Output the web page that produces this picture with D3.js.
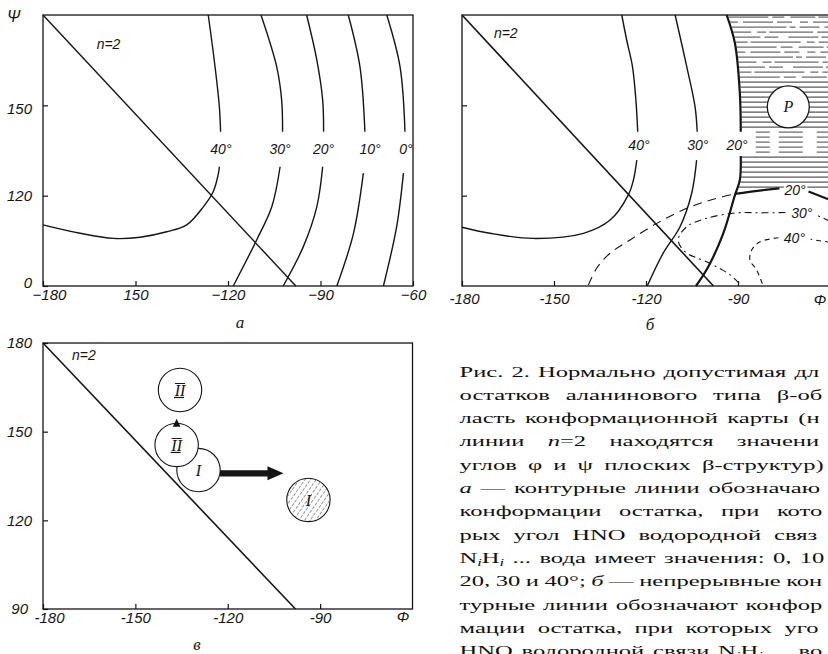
<!DOCTYPE html>
<html><head><meta charset="utf-8">
<script src="https://cdn.jsdelivr.net/npm/d3@7"></script>
<style>
body{margin:0;background:#fff;}
svg{display:block;background:#fff;}
.ax text{font-family:"Liberation Sans",Arial,sans-serif;font-style:italic;font-size:15px;fill:#151515;}
.ax line{stroke:#151515;stroke-width:1.2;}
.lbl{font-family:"Liberation Sans",Arial,sans-serif;font-style:italic;fill:#151515;}
.ser{font-family:"Liberation Serif","Times New Roman",serif;font-style:italic;fill:#151515;}
</style></head><body>
<svg id="c" width="828" height="654"></svg>
<script>
// ---------- axis ticks / labels ----------
const aXTicks = [-180,-150,-120,-90,-60];
const aXLabels = ["−180","150","−120","−90","−60"];
const aYTicks = [90,120,150];
const aYLabels = ["0","120","150"];
const bXTicks = [-180,-150,-120,-90];
const bXLabels = ["-180","-150","-120","-90"];
const bYTicks = [120,150];
const vXTicks = [-180,-150,-120,-90];
const vXLabels = ["-180","-150","-120","-90"];
const vYTicks = [90,120,150,180];
const vYLabels = ["90","120","150","180"];

// ---------- line n = 2 (phi, psi) ----------
const nLine = [[-180,180],[-98,90]];

// ---------- panel а : HNO-angle contours (phi, psi), null = label gap ----------
const a40 = [[-126.4,180],[-124.2,162.8],[-122.8,149.5],[-122.4,141.2],null,[-122.8,129.6],[-123.1,127.4],[-124.8,121.3],[-128,116.3],[-133.4,110.3],[-139.9,108],[-148.5,106.2],[-157.2,105.8],[-168,107.5],[-180,110.3]];
const a30 = [[-109.3,180],[-104.2,162.8],[-102.6,151.8],[-102.3,141.2],null,[-103.1,129.6],[-105.8,116.3],[-110.7,105.3],[-118.3,90]];
const a20 = [[-94.5,180],[-91.2,165.1],[-89.3,151.8],[-89.0,141.2],null,[-89.3,129.6],[-91.2,116.3],[-95.6,103],[-102.1,90]];
const a10 = [[-81,180],[-77.2,162.8],[-75.6,141.2],null,[-76.1,127.5],[-79.3,107.5],[-84.7,90]];
const a0  = [[-68.5,180],[-64.2,162.8],[-62.6,141.2],null,[-63.1,127.5],[-65.3,109.7],[-69.6,90]];
const aLabels = ["40°","30°","20°","10°","0°"];
const aLabelPhi = [-122.3,-103.1,-89,-73.9,-62.3];

// ---------- panel б : solid contours ----------
const b40 = [[-127.9,180],[-126.3,171.7],[-124.4,162.8],[-123.3,151.8],[-122.7,141.2],null,[-123,131.8],[-124.1,125.2],[-125.8,120.2],[-131.7,111.9],[-140.4,107.5],[-156.8,105.8],[-170.9,107.5],[-180,109.5]];
const b30 = [[-110.5,180],[-106.7,162.8],[-104,149.5],[-103.3,141.2],null,[-103.5,131.8],[-105.1,120.8],[-108.9,109.7],[-114.4,100.9],[-119.6,90]];
const b20 = [[-93.7,180],[-91,170.6],[-89.4,154],[-89.1,141.2],null,[-89.1,133.2],[-89.4,125.2],[-91,120.2],[-94.8,107.5],[-99.7,96.4],[-103.7,90]];
const bLabels = ["40°","30°","20°"];
const bLabelPhi = [-122.3,-103.1,-90.3];
// dashed contours (second set)
const d20 = [[-138.8,90.3],[-136.1,95.9],[-131.7,100.9],[-125.2,105.3],[-116.5,110.8],[-106.7,115.8],[-98.1,118.8],[-91,120.6]];
const s20 = [[-91,120.6],[-83,121.7],[-76.5,122.4],null,[-67,121.4],[-60.5,118.8]];
const d30 = [[-60,111.5],[-64.3,113.5],null,[-74.5,114.4],[-82.6,114.3],[-90.4,114.3],[-100.2,112.5],[-106.7,109.7],[-109.5,105.3],[-107.3,101.4],[-99.1,97.5],[-92.6,93.7],[-88.8,90]];
const d40 = [[-60,104.5],[-66.3,105.5],null,[-76.8,106],[-82.8,104.7],[-85.5,102],[-86.1,98.6],[-83.9,95.3],[-81.8,90]];
const dLabels = ["20°","30°","40°"];
const dLabelPhi = [-71.4,-69.2,-71.6];
const dLabelPsi = [121.9,114.2,106];
const pCircle = [-73.6,149.5];

// ---------- panel в : conformations ----------
const circleLabels = ["II","I","II","I"];
const circlePhi = [-135.5,-129.5,-136.6,-93.8];
const circlePsi = [164.1,137.0,145.5,126.9];
const circleHatched = [false,false,false,true];
const moveArrow = [[-122.5,135.9],[-101.9,135.9]];
const upArrowTip = [-136.6,154.4];

// ---------- caption ----------
const captionLines = [
 "Рис. 2. Нормально допустимая для",
 "остатков аланинового типа β-об-",
 "ласть конформационной карты (на",
 "линии *n*=2 находятся значения",
 "углов φ и ψ плоских β-структур);",
 "*а* — контурные линии обозначают",
 "конформации остатка, при кото-",
 "рых угол HNO водородной связи",
 "N_{i}H_{i} ... вода имеет значения: 0, 10,",
 "20, 30 и 40°; *б* — непрерывные кон-",
 "турные линии обозначают конфор-",
 "мации остатка, при которых угол",
 "HNO водородной связи N_{i}H_{i} ... во-"
];

// =====================================================
const ink = "#151515";
const svg = d3.select("#c");
const defs = svg.append("defs");
const pat = defs.append("pattern").attr("id","diag").attr("patternUnits","userSpaceOnUse")
  .attr("width",4.6).attr("height",4.6).attr("patternTransform","rotate(35)");
pat.append("line").attr("x1",0).attr("y1",0).attr("x2",0).attr("y2",4.6)
  .attr("stroke",ink).attr("stroke-width",0.9).attr("stroke-dasharray","3.2,1.4");

const xA = d3.scaleLinear().domain([-180,-60]).range([43,413]);
const yA = d3.scaleLinear().domain([90,180]).range([286,15]);
const xB = d3.scaleLinear().domain([-180,-60]).range([462,830]);
const yB = d3.scaleLinear().domain([90,180]).range([286,15]);
const xV = d3.scaleLinear().domain([-180,-60]).range([43,412.5]);
const yV = d3.scaleLinear().domain([90,180]).range([609,343]);

function gen(x,y){
  return d3.line().defined(d=>d!==null).x(d=>x(d[0])).y(d=>y(d[1])).curve(d3.curveCatmullRom.alpha(0.5));
}
function curve(g,data,x,y,w,dash){
  return g.append("path").datum(data).attr("d",gen(x,y)).attr("fill","none")
    .attr("stroke",ink).attr("stroke-width",w).attr("stroke-dasharray",dash||null)
    .attr("stroke-linecap","butt");
}
function frame(g,x,y){
  g.append("rect").attr("x",x.range()[0]).attr("y",y.range()[1])
   .attr("width",x.range()[1]-x.range()[0]).attr("height",y.range()[0]-y.range()[1])
   .attr("fill","none").attr("stroke",ink).attr("stroke-width",1.3);
}
function axes(g,x,y,xt,xl,xpad,yt,yl,ypad){
  const bx = g.append("g").attr("class","ax").attr("transform",`translate(0,${y.range()[0]})`)
    .call(d3.axisBottom(x).tickValues(xt).tickFormat((d,i)=>xl?xl[i]:"").tickSize(-5).tickPadding(xpad));
  bx.select(".domain").remove();
  const ly = g.append("g").attr("class","ax").attr("transform",`translate(${x.range()[0]},0)`)
    .call(d3.axisRight(y).tickValues(yt).tickFormat(()=>"").tickSize(5));
  ly.select(".domain").remove();
  if (yl){
    const lx = g.append("g").attr("class","ax").attr("transform",`translate(${x.range()[0]},0)`)
      .call(d3.axisLeft(y).tickValues(yt).tickFormat((d,i)=>yl[i]).tickSize(0).tickPadding(ypad));
    lx.select(".domain").remove();
    return {bx,lx};
  }
  return {bx};
}
function text(g,str,x,y,size,cls,anchor){
  return g.append("text").attr("class",cls||"lbl").attr("x",x).attr("y",y)
    .attr("font-size",size).attr("text-anchor",anchor||"middle").text(str);
}

// ================= panel а =================
const gA = svg.append("g");
frame(gA,xA,yA);
const axA = axes(gA,xA,yA,aXTicks,aXLabels,3,aYTicks,aYLabels,11);
axA.bx.selectAll(".tick text").filter((d,i)=>i===0).attr("dx",6);
axA.lx.selectAll(".tick text").filter((d,i)=>i===0).attr("dy","0.1em");
axA.lx.selectAll(".tick text").filter((d,i)=>i===2).attr("dy","0.55em");
text(gA,"Ψ",7,22,16,"lbl","start");
[a40,a30,a20,a10,a0].forEach(c=>curve(gA,c,xA,yA,1.4));
curve(gA,nLine,xA,yA,1.4);
aLabels.forEach((l,i)=>text(gA,l,xA(aLabelPhi[i]),yA(135.5)+5,14));
text(gA,"n=2",xA(-162.6),yA(168.7),14,"lbl","start");
text(gA,"а",240,328,17,"ser");

// ================= panel б =================
const gB = svg.append("g");
const b20path = curve(gB,b20,xB,yB,2.2);
const node = b20path.node(), L = node.getTotalLength();
const samples = d3.range(0,L,0.5).map(l=>node.getPointAtLength(l));
function xAtY(yy){ let best=samples[0],bd=1e9; for(const p of samples){const dd=Math.abs(p.y-yy); if(dd<bd){bd=dd;best=p;}} return best.x; }
const hatch = gB.append("g").attr("stroke",ink).attr("stroke-width",0.9);
const frag = ["40,4,12,6,25,3","8,5,30,4,15,8","55,3,6,4,20,5","18,6,9,3,44,4","26,4,14,10,30,3","12,3,50,6,8,4"];
d3.range(yB(179.3),yB(121.9),5).forEach((yy,i)=>{
  const inGap = yy>yB(141.4) && yy<yB(133.6);
  const x1 = xAtY(yy)+1;
  const ln = hatch.append("line").attr("x1",inGap? x1+14 : x1).attr("x2",832).attr("y1",yy).attr("y2",yy);
  if (inGap) ln.attr("stroke-dasharray","14,9,24,14").attr("stroke-width",0.8);
  else if (yy<yB(158)) ln.attr("stroke-dasharray",frag[i%frag.length]).attr("stroke-width",0.8);
});
b20path.raise();
frame(gB,xB,yB);
axes(gB,xB,yB,bXTicks,bXLabels,7,bYTicks,null,0).bx.selectAll(".tick text").filter((d,i)=>i===0).attr("dx",2);
[b40,b30].forEach(c=>curve(gB,c,xB,yB,1.4));
curve(gB,nLine,xB,yB,1.6);
curve(gB,d20,xB,yB,1.1,"9,6");
curve(gB,s20,xB,yB,2.2);
curve(gB,d30,xB,yB,1.1,"7,4,2,4");
curve(gB,d40,xB,yB,1.1,"5,4");
gB.append("circle").attr("cx",xB(pCircle[0])).attr("cy",yB(pCircle[1])).attr("r",21)
  .attr("fill","#fff").attr("stroke",ink).attr("stroke-width",1.3);
text(gB,"P",xB(pCircle[0]),yB(pCircle[1])+5,16,"ser");
bLabels.forEach((l,i)=>text(gB,l,xB(bLabelPhi[i]),yB(136.7)+5,14)
  .attr("stroke","#fff").attr("stroke-width",4).attr("paint-order","stroke"));
dLabels.forEach((l,i)=>text(gB,l,xB(dLabelPhi[i]),yB(dLabelPsi[i])+5,14)
  .attr("stroke","#fff").attr("stroke-width",4).attr("paint-order","stroke"));
text(gB,"n=2",xB(-169.6),yB(172.5),14,"lbl","start");
text(gB,"Φ",820,305,15);
text(gB,"б",650,330,17,"ser");

// ================= panel в =================
const gV = svg.append("g");
frame(gV,xV,yV);
const axV = axes(gV,xV,yV,vXTicks,vXLabels,3,vYTicks,vYLabels,11);
axV.bx.selectAll(".tick text").filter((d,i)=>i===0).attr("dx",6);
axV.lx.selectAll(".tick text").filter((d,i)=>i===0).attr("dx",-4);
curve(gV,nLine,xV,yV,1.6);
text(gV,"n=2",xV(-170.6),yV(174.2),14,"lbl","start");
text(gV,"Φ",403,622,15);
text(gV,"в",197,650,17,"ser");
[0,1,2,3].forEach(i=>{
  const cx = xV(circlePhi[i]), cy = yV(circlePsi[i]);
  gV.append("circle").attr("cx",cx).attr("cy",cy).attr("r",21.7)
    .attr("fill","#fff").attr("stroke",ink).attr("stroke-width",1.1);
  if (circleHatched[i]) gV.append("circle").attr("cx",cx).attr("cy",cy).attr("r",21.2).attr("fill","url(#diag)");
  text(gV,circleLabels[i],cx,cy+6,16,"ser");
  if (circleLabels[i]==="II"){
    gV.append("line").attr("x1",cx-5).attr("x2",cx+5).attr("y1",cy-6.5).attr("y2",cy-6.5).attr("stroke",ink).attr("stroke-width",1);
    gV.append("line").attr("x1",cx-6).attr("x2",cx+4).attr("y1",cy+7.5).attr("y2",cy+7.5).attr("stroke",ink).attr("stroke-width",1.2);
  }
});
{
  const x0 = xV(moveArrow[0][0]), x1 = xV(moveArrow[1][0]), yy = yV(moveArrow[0][1]);
  const hl = 16, hh = 7, sh = 3.2;
  gV.append("path").attr("d",`M${x0},${yy-sh}L${x1-hl},${yy-sh}L${x1-hl},${yy-hh}L${x1},${yy}L${x1-hl},${yy+hh}L${x1-hl},${yy+sh}L${x0},${yy+sh}Z`)
    .attr("fill",ink);
  const tx = xV(upArrowTip[0]), ty = yV(upArrowTip[1]);
  gV.append("path").attr("d",`M${tx},${ty}L${tx+3.8},${ty+8}L${tx-3.8},${ty+8}Z`).attr("fill",ink);
}

// ================= caption (justified, cut at the page edge like the scan) =================
const W = 371, X0 = 459.5, BASE0 = 376.5, LH = 23.3, G0 = 5.5, LIMIT = 828;
const cap = svg.append("g");
const lines = captionLines.map((ln,li)=>{
  const t = cap.append("text").attr("font-family","'Liberation Serif','Times New Roman',serif")
    .attr("font-size",15).attr("fill","#111");
  const words = ln.split(" ").map(w=>{
    const ws = t.append("tspan");
    const parts = [];
    let down = false;
    w.split(/(\*[^*]+\*|_\{[^}]+\})/).filter(s=>s.length).forEach(s=>{
      let p;
      if (s[0]==="*") { p = ws.append("tspan").attr("font-style","italic").attr("dy",down?-3:null).text(s.slice(1,-1)); down=false; }
      else if (s[0]==="_") { p = ws.append("tspan").attr("font-style","italic").attr("font-size",10).attr("dy",3).text(s.slice(2,-1)); down=true; }
      else { p = ws.append("tspan").attr("dy",down?-3:null).text(s); down=false; }
      parts.push(p);
    });
    return {ws, parts, w: ws.node().getComputedTextLength(), down, sp:null, x:0};
  });
  return {t, words, nat: d3.sum(words,d=>d.w)};
});
const sx = d3.min(lines, l=>(W-(l.words.length-1)*G0)/l.nat);
lines.forEach((l,li)=>{
  const n = l.words.length;
  const gap = n>1 ? (W/sx - l.nat)/(n-1) : 0;
  let x = 0;
  l.words.forEach((wd,k)=>{
    wd.ws.attr("x",x); wd.x = x;
    if (k<n-1){ wd.sp = wd.ws.append("tspan").text(" "); if (wd.down) wd.sp.attr("dy",-3); }
    x += wd.w + gap;
  });
  l.t.attr("transform",`translate(${X0},${BASE0+li*LH}) scale(${sx},1)`);
  l.words.forEach(wd=>{
    const start = X0 + sx*wd.x;
    const width = ()=>d3.sum(wd.parts,p=>p.node().getComputedTextLength());
    if (start >= LIMIT-3) { wd.ws.remove(); return; }
    if (start + sx*width() > LIMIT){
      if (wd.sp) wd.sp.remove();
      let guard = 0;
      while (start + sx*width() > LIMIT && guard++ < 60){
        const p = wd.parts.slice().reverse().find(p=>p.text().length>0);
        if (!p) break;
        p.text(p.text().slice(0,-1));
      }
    }
  });
});
</script>
</body></html>
